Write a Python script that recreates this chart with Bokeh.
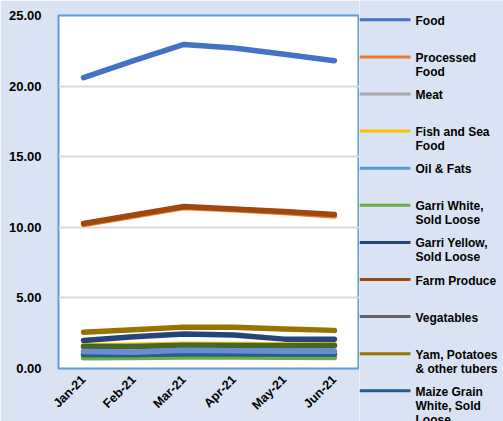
from bokeh.plotting import figure
from bokeh.layouts import row
from bokeh.models import FactorRange, Range1d, FixedTicker, PrintfTickFormatter
from bokeh.embed import file_html
from bokeh.resources import INLINE
import math

months = ["Jan-21", "Feb-21", "Mar-21", "Apr-21", "May-21", "Jun-21"]

food = [20.6, 21.8, 22.95, 22.7, 22.25, 21.8]
processed_food = [10.2, 10.8, 11.4, 11.25, 11.05, 10.8]
meat = [1.55, 1.6, 1.65, 1.65, 1.6, 1.6]
fish_sea_food = [1.62, 1.65, 1.72, 1.7, 1.68, 1.68]
oil_fats = [1.18, 1.15, 1.28, 1.25, 1.22, 1.22]
garri_white = [0.76, 0.78, 0.82, 0.82, 0.8, 0.78]
garri_yellow = [1.98, 2.25, 2.45, 2.38, 2.08, 2.08]
farm_produce = [10.27, 10.87, 11.47, 11.3, 11.12, 10.9]
vegatables = [1.0, 1.0, 1.05, 1.05, 1.02, 1.02]
yam_tubers = [2.57, 2.75, 2.93, 2.92, 2.8, 2.7]
maize_white = [1.0, 1.0, 1.05, 1.05, 1.03, 1.03]
series_12 = [1.56, 1.55, 1.65, 1.63, 1.62, 1.63]
series_13 = [1.2, 1.15, 1.3, 1.25, 1.22, 1.22]

series = [
    ("Food", food, "#4472C4"),
    ("Processed\nFood", processed_food, "#ED7D31"),
    ("Meat", meat, "#A5A5A5"),
    ("Fish and Sea\nFood", fish_sea_food, "#FFC000"),
    ("Oil & Fats", oil_fats, "#5B9BD5"),
    ("Garri White,\nSold Loose", garri_white, "#70AD47"),
    ("Garri Yellow,\nSold Loose", garri_yellow, "#264478"),
    ("Farm Produce", farm_produce, "#9E480E"),
    ("Vegatables", vegatables, "#636363"),
    ("Yam, Potatoes\n& other tubers", yam_tubers, "#997300"),
    ("Maize Grain\nWhite, Sold\nLoose", maize_white, "#255E91"),
    (None, series_12, "#43682B"),
    (None, series_13, "#698ED0"),
]

FONT = "Liberation Sans"
BG = "#DAE3F3"
W, H = 503, 421
MW = 359

p = figure(width=MW, height=H, output_backend="svg", toolbar_location=None,
           x_range=FactorRange(*months, range_padding=0),
           y_range=Range1d(0, 25),
           min_border_left=58, min_border_top=15, min_border_bottom=H - 368,
           min_border_right=0, frame_align=False)
p.border_fill_color = BG
p.background_fill_color = "white"
p.outline_line_color = "#5B9BD5"
p.outline_line_width = 2

p.xgrid.visible = False
p.ygrid.grid_line_color = "#D9D9D9"
p.ygrid.grid_line_width = 2

p.yaxis.ticker = FixedTicker(ticks=[0, 5, 10, 15, 20, 25])
p.yaxis.formatter = PrintfTickFormatter(format="%.2f")
for ax in (p.xaxis[0], p.yaxis[0]):
    ax.axis_line_color = None
    ax.major_tick_line_color = None
    ax.minor_tick_line_color = None
    ax.major_label_text_font = FONT
    ax.major_label_text_font_style = "bold"
    ax.major_label_text_color = "black"
p.yaxis.major_label_text_font_size = "13px"
p.yaxis.major_label_standoff = 11
p.xaxis.major_label_text_font_size = "12.5px"
p.xaxis.major_label_orientation = math.pi / 4
p.xaxis.major_label_standoff = 3

for label, vals, color in series:
    p.line(months, vals, line_color=color, line_width=5.5, line_cap="round",
           line_join="round")

# legend panel (separate figure, pixel coordinates, y downwards)
LW = W - MW
lg = figure(width=LW, height=H, output_backend="svg", toolbar_location=None,
            x_range=Range1d(0, LW), y_range=Range1d(H, 0),
            min_border=0, frame_align=False)
lg.axis.visible = False
lg.grid.visible = False
lg.outline_line_color = None
lg.background_fill_color = BG
lg.border_fill_color = BG

labels = [s[0] for s in series if s[0] is not None]
colors = [s[2] for s in series if s[0] is not None]
ys = [19.3 + 37.1 * i for i in range(len(labels))]
lg.segment(x0=[0] * len(ys), y0=ys, x1=[51] * len(ys), y1=ys,
           line_color=colors, line_width=3)
lg.text(x=[56] * len(ys), y=[y - 6 for y in ys], text=labels,
        text_font={"value": FONT}, text_font_style="bold",
        text_font_size="12px", text_baseline="top", text_align="left",
        text_color="black", text_line_height=1.0)

layout = row(p, lg)
open("out.html", "w").write(file_html(layout, INLINE))
